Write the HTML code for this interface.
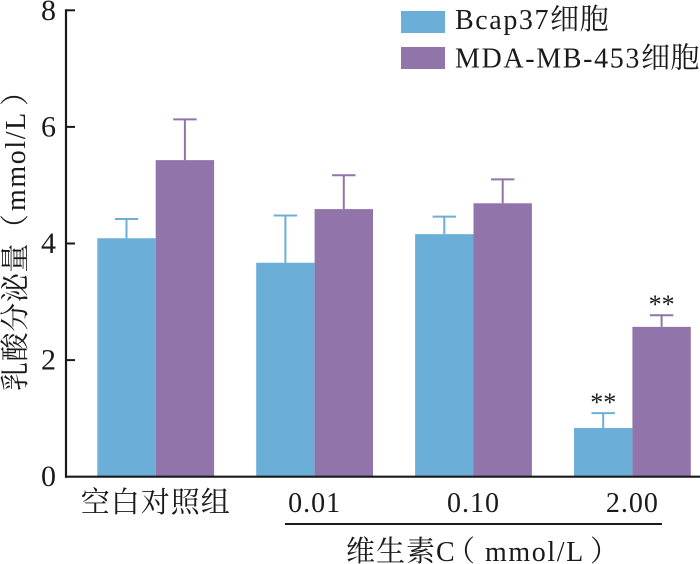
<!DOCTYPE html>
<html lang="zh">
<head>
<meta charset="utf-8">
<title>乳酸分泌量</title>
<style>
html,body{margin:0;padding:0;background:#fff;}
#chart{display:block;width:700px;height:564px;font-family:"Liberation Serif","Noto Serif CJK SC",serif;fill:#1a1a1a;}
.cjk{font-size:29px;}
</style>
</head>
<body>
<svg id="chart" xmlns="http://www.w3.org/2000/svg" width="700" height="564" viewBox="0 0 700 564">
  <g id="bars"></g>
  <g id="axes"></g>

  <g>
    <rect x="401" y="11" width="44" height="22" fill="#6baed8"></rect>
    <text x="455" y="29" font-size="28" letter-spacing="1.6">Bcap37<tspan class="cjk" letter-spacing="0.5">细胞</tspan></text>
    <rect x="401" y="47" width="44" height="22" fill="#9174aa"></rect>
    <text x="455" y="67.5" font-size="28" letter-spacing="1.65">MDA-MB-453<tspan class="cjk" letter-spacing="0.3">细胞</tspan></text>
  </g>

  <text transform="translate(25,391) rotate(-90)" font-size="28" letter-spacing="1.6"><tspan class="cjk" letter-spacing="0.6">乳酸分泌量（</tspan><tspan x="180">mmol/L</tspan><tspan class="cjk" x="285">）</tspan></text>

  <line x1="285" y1="524" x2="662" y2="524" stroke="#1a1a1a" stroke-width="2"></line>
  <text x="346" y="561" font-size="28" letter-spacing="1.6"><tspan class="cjk" letter-spacing="1">维生素</tspan>C<tspan class="cjk" x="446">（</tspan><tspan x="485">mmol/L</tspan><tspan class="cjk" x="590">）</tspan></text>
</svg>

<script>
var categories = ['空白对照组', '0.01', '0.10', '2.00'];
var bcapValues = [4.09, 3.67, 4.16, 0.835];
var bcapErrorTops = [4.42, 4.48, 4.46, 1.09];
var mdaValues = [5.43, 4.59, 4.69, 2.57];
var mdaErrorTops = [6.13, 5.17, 5.10, 2.77];
var bcapMarks = ['', '', '', '**'];
var mdaMarks = ['', '', '', '**'];
var yTicks = [0, 2, 4, 6, 8];

var NS = 'http://www.w3.org/2000/svg';
var barWidth = 58.4;
var capHalf = 11.7;
var bluePurple = ['#6baed8', '#9174aa'];
var ink = '#1a1a1a';

function yScale(v) {
  return 476.7 - v * 58.3;
}
function groupCenter(i) {
  return 155.7 + i * 158.9;
}
function make(tag, parent, attrs) {
  var el = document.createElementNS(NS, tag);
  for (var k in attrs) {
    el.setAttribute(k, attrs[k]);
  }
  parent.appendChild(el);
  return el;
}

var barsGroup = document.getElementById('bars');
var axesGroup = document.getElementById('axes');

function drawSeries(values, tops, marks, colorIndex, seriesName) {
  var color = bluePurple[colorIndex];
  for (var i = 0; i < categories.length; i++) {
    var left = groupCenter(i) - barWidth + colorIndex * barWidth;
    var mid = left + barWidth / 2;
    var bar = make('rect', barsGroup, {
      x: left,
      y: yScale(values[i]),
      width: barWidth,
      height: yScale(0) - yScale(values[i]),
      fill: color
    });
    
    

    var stem = make('line', barsGroup, {
      x1: mid,
      x2: mid,
      y1: yScale(values[i]),
      y2: yScale(tops[i]),
      stroke: color,
      'stroke-width': 2
    });
    
    

    var cap = make('line', barsGroup, {
      x1: mid - capHalf,
      x2: mid + capHalf,
      y1: yScale(tops[i]),
      y2: yScale(tops[i]),
      stroke: color,
      'stroke-width': 2
    });
    
    

    if (marks[i]) {
      var star = make('text', barsGroup, {
        x: mid,
        y: yScale(tops[i]) - 2,
        'font-size': 26,
        'text-anchor': 'middle'
      });
      star.textContent = marks[i];
      
      
    }
  }
}

drawSeries(bcapValues, bcapErrorTops, bcapMarks, 0, 'bcap37');
drawSeries(mdaValues, mdaErrorTops, mdaMarks, 1, 'mda-mb-453');

var yAxisLine = make('line', axesGroup, {
  x1: 66, x2: 66, y1: yScale(8) - 1, y2: yScale(0) + 1, stroke: ink, 'stroke-width': 2.2
});



var xAxisLine = make('line', axesGroup, {
  x1: 65, x2: 700, y1: yScale(0), y2: yScale(0), stroke: ink, 'stroke-width': 2.2
});



yTicks.forEach(function (t) {
  if (t > 0) {
    var tick = make('line', axesGroup, {
      x1: 66, x2: 75, y1: yScale(t), y2: yScale(t), stroke: ink, 'stroke-width': 2
    });
    
    
  }
  var label = make('text', axesGroup, {
    x: 56, y: yScale(t) + 9.5, 'font-size': 30, 'text-anchor': 'end'
  });
  label.textContent = String(t);
  
  
});

categories.forEach(function (c, i) {
  var label = make('text', axesGroup, {
    x: groupCenter(i),
    y: 512,
    'font-size': i === 0 ? 29 : 28,
    'letter-spacing': 1,
    'text-anchor': 'middle'
  });
  label.textContent = c;
  
  
});
</script>
</body>
</html>
